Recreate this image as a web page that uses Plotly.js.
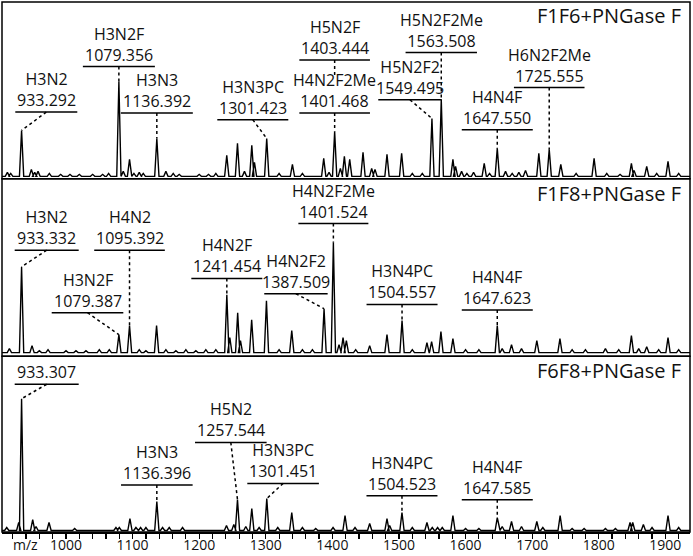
<!DOCTYPE html>
<html>
<head>
<meta charset="utf-8">
<script src="https://cdn.plot.ly/plotly-3.0.1.min.js"></script>
<style>
  html, body { margin: 0; padding: 0; background: #fff; }
  #spectra { width: 693px; height: 556px; }
</style>
</head>
<body>
<div id="spectra"></div>
<script>
// peak lists (m/z, relative intensity)
var f1f6Mz  = [912, 917, 933.3, 948, 953, 958, 975, 992, 1006, 1020, 1040, 1055, 1064, 1079.4, 1086, 1095.4, 1102, 1110, 1116, 1136.4, 1150, 1161, 1170, 1200, 1214, 1225, 1241.4, 1257.5, 1268, 1279, 1283, 1301.4, 1320, 1340, 1355, 1387, 1395, 1403.4, 1412, 1418, 1426, 1446, 1459, 1464, 1482, 1504, 1520, 1535, 1549.5, 1563.5, 1581, 1585, 1594, 1602, 1612, 1628, 1636, 1647.6, 1660, 1670, 1680, 1690, 1710, 1725.6, 1743, 1766, 1793, 1812, 1832, 1849, 1853, 1872, 1887, 1904, 1920];
var f1f6Int = [4, 3, 46, 7, 4, 5, 3, 2, 2, 2, 2, 2, 3, 95, 5, 17, 3, 4, 3, 38, 5, 3, 2, 2, 2, 3, 21, 33, 5, 31, 14, 38, 3, 12, 3, 18, 4, 45, 8, 20, 17, 24, 8, 7, 22, 23, 3, 3, 58, 77, 17, 10, 5, 3, 4, 13, 3, 28, 5, 3, 4, 6, 23, 27, 12, 3, 18, 3, 2, 13, 6, 10, 3, 15, 3];

var f1f8Mz  = [915, 933.3, 949, 960, 973, 1000, 1015, 1030, 1050, 1065, 1079.4, 1095.4, 1110, 1120, 1136, 1150, 1165, 1180, 1195, 1210, 1225, 1241.5, 1246, 1257.8, 1262, 1278.8, 1301, 1320, 1339, 1355, 1370, 1387.5, 1401.5, 1410, 1416, 1421, 1435, 1456, 1482, 1504.6, 1520, 1542, 1549, 1563, 1581, 1600, 1620, 1647.6, 1655, 1669, 1684, 1707, 1741.7, 1760, 1780, 1810, 1830, 1849, 1860, 1872, 1890, 1904, 1920];
var f1f8Int = [4, 86, 7, 2, 3, 2, 2, 2, 3, 3, 18, 27, 3, 2, 27, 3, 2, 3, 2, 3, 3, 58, 15, 40, 12, 33, 52, 3, 22, 3, 3, 44, 110, 8, 15, 12, 3, 7, 18, 32, 3, 10, 11, 21, 14, 3, 3, 27, 4, 8, 4, 12, 14, 3, 3, 4, 3, 17, 4, 6, 3, 15, 3];

var f6f8Mz  = [911, 929, 933.3, 950, 955, 974.5, 1013, 1075, 1080, 1096, 1105, 1112, 1120, 1136.4, 1145, 1155, 1175, 1241, 1252, 1257.5, 1270, 1279, 1290, 1301.5, 1318, 1339, 1355, 1375, 1401, 1419, 1434, 1456, 1482, 1486, 1504.5, 1520, 1542, 1550, 1558, 1565, 1581, 1600, 1620, 1647.6, 1655, 1669, 1684, 1707, 1716, 1742, 1760, 1778, 1810, 1825, 1847, 1851, 1867, 1880, 1904, 1920];
var f6f8Int = [3, 8, 132, 11, 4, 8, 2, 3, 3, 12, 3, 3, 3, 29, 3, 3, 3, 5, 6, 31, 4, 22, 3, 32, 3, 18, 3, 2, 3, 15, 3, 7, 12, 5, 18, 3, 8, 3, 3, 3, 15, 2, 2, 13, 4, 9, 4, 9, 3, 15, 2, 2, 2, 2, 8, 8, 6, 3, 15, 3];

// annotated peaks
var f1f6Names  = ['H3N2', 'H3N2F', 'H3N3', 'H3N3PC', 'H5N2F', 'H4N2F2Me', 'H5N2F2', 'H5N2F2Me', 'H4N4F', 'H6N2F2Me'];
var f1f6Values = ['933.292', '1079.356', '1136.392', '1301.423', '1403.444', '1401.468', '1549.495', '1563.508', '1647.550', '1725.555'];
var f1f8Names  = ['H3N2', 'H4N2', 'H3N2F', 'H4N2F', 'H4N2F2', 'H4N2F2Me', 'H3N4PC', 'H4N4F'];
var f1f8Values = ['933.332', '1095.392', '1079.387', '1241.454', '1387.509', '1401.524', '1504.557', '1647.623'];
var f6f8Names  = ['', 'H3N3', 'H5N2', 'H3N3PC', 'H3N4PC', 'H4N4F'];
var f6f8Values = ['933.307', '1136.396', '1257.544', '1301.451', '1504.523', '1647.585'];

var panelTitles = ['F1F6+PNGase F', 'F1F8+PNGase F', 'F6F8+PNGase F'];
var xTicks = [1000, 1100, 1200, 1300, 1400, 1500, 1600, 1700, 1800, 1900];

// label placement: [text centre m/z, underline height, half underline width px, leader end height or null]
var f1f6Pos = [[970.4, 64.4, 31, null], [1079.4, 110, 36, null], [1136.4, 63.4, 36, null], [1280.5, 56.7, 35.5, null],
  [1403.4, 116.7, 35.3, 99], [1403.4, 63.4, 35.3, null], [1516.5, 76.7, 31.7, null], [1563.5, 124, 35.7, null],
  [1647.6, 46.7, 35.5, null], [1725.6, 89, 35.3, null]];
var f1f8Pos = [[971, 102.6, 32, null], [1095.4, 102.6, 35.3, null], [1032.3, 40, 35.8, null], [1241.5, 74.3, 35.5, null],
  [1345.3, 59, 31.7, null], [1401.5, 129.3, 35, null], [1504.6, 48.3, 35.5, null], [1647.6, 42.6, 35.5, null]];
var f6f8Pos = [[971, 146.5, 32, null], [1136.4, 45.5, 35.8, null], [1247.5, 88.2, 35.8, null], [1326, 47.2, 35.8, null],
  [1504.5, 34.8, 35.5, null], [1647.6, 30.8, 35.5, null]];

var xMin = 903.9, xMax = 1937;
var plotW = 688;
var pxPerMz = plotW / (xMax - xMin);
var peakHalf = 3.2;
var font = 'Open Sans, sans-serif';

function spectrum(mz, inten, yaxis) {
  var x = [xMin], y = [0];
  for (var i = 0; i < mz.length; i++) {
    x.push(mz[i] - peakHalf, mz[i], mz[i] + peakHalf);
    y.push(0, inten[i], 0);
  }
  x.push(xMax); y.push(0);
  return { x: x, y: y, xaxis: 'x', yaxis: yaxis, mode: 'lines', hoverinfo: 'skip',
           line: { color: '#000', width: 1.4 }, showlegend: false };
}

function nearestPeak(mz, inten, m) {
  var best = 0;
  for (var i = 1; i < mz.length; i++) {
    if (Math.abs(mz[i] - m) < Math.abs(mz[best] - m)) best = i;
  }
  return [mz[best], inten[best]];
}

var annotations = [], shapes = [];

function addLabels(names, values, pos, mz, inten, yref) {
  for (var i = 0; i < names.length; i++) {
    var p = pos[i];
    var pk = nearestPeak(mz, inten, parseFloat(values[i]));
    var hw = p[2] / pxPerMz;
    var txt = names[i] != '' ? names[i] + '<br>' + values[i] : values[i];
    annotations.push({ xref: 'x', yref: yref, x: p[0], y: p[1], yanchor: 'middle',
      yshift: names[i] != '' ? 22.5 : 12.5,
      text: txt, showarrow: false, font: { family: font, size: 16, color: '#111' } });
    shapes.push({ type: 'line', xref: 'x', yref: yref, x0: p[0] - hw, x1: p[0] + hw, y0: p[1], y1: p[1],
      line: { color: '#000', width: 1.5 } });
    var endY = p[3] === null ? pk[1] : p[3];
    shapes.push({ type: 'line', xref: 'x', yref: yref, x0: p[0], x1: pk[0], y0: p[1], y1: endY,
      line: { color: '#000', width: 1.5, dash: 'dot' } });
  }
}

addLabels(f1f6Names, f1f6Values, f1f6Pos, f1f6Mz, f1f6Int, 'y');
addLabels(f1f8Names, f1f8Values, f1f8Pos, f1f8Mz, f1f8Int, 'y2');
addLabels(f6f8Names, f6f8Values, f6f8Pos, f6f8Mz, f6f8Int, 'y3');

// panel frames and titles
var yNames = ['y', 'y2', 'y3'];
var titleShift = [-13, -15, -14];
for (var k = 0; k < 3; k++) {
  shapes.push({ type: 'rect', xref: 'paper', yref: yNames[k] + ' domain', x0: 0, x1: 1, y0: 0, y1: 1,
    line: { color: '#000', width: 1.5 } });
  annotations.push({ xref: 'paper', yref: yNames[k] + ' domain', x: 0.99, y: 1, xanchor: 'right', yanchor: 'middle',
    yshift: titleShift[k], text: panelTitles[k], showarrow: false, font: { family: font, size: 20, color: '#111' } });
}
annotations.push({ xref: 'paper', yref: 'paper', x: 0.013, y: 0, yanchor: 'middle', yshift: -12.5,
  text: 'm/z', showarrow: false, font: { family: font, size: 14, color: '#111' } });

var data = [spectrum(f1f6Mz, f1f6Int, 'y'), spectrum(f1f8Mz, f1f8Int, 'y2'), spectrum(f6f8Mz, f6f8Int, 'y3')];

var yBase = { showgrid: false, zeroline: false, showticklabels: false, ticks: '', showline: false, fixedrange: true };

var layout = {
  width: 693, height: 556,
  margin: { l: 2, r: 3, t: 2, b: 24 },
  paper_bgcolor: '#fff', plot_bgcolor: '#fff',
  showlegend: false,
  xaxis: {
    anchor: 'y3', range: [xMin, xMax], showgrid: false, zeroline: false,
    showline: true, linecolor: '#000', linewidth: 1.5,
    tickmode: 'array', tickvals: xTicks, ticktext: xTicks.map(String),
    ticks: 'outside', ticklen: 5, tickwidth: 1.2, tickcolor: '#000',
    ticklabelstandoff: -5,
    minor: { dtick: 20, tick0: 1000, ticks: 'outside', ticklen: 5, tickwidth: 1.2, tickcolor: '#000', showgrid: false },
    tickfont: { family: font, size: 14, color: '#111' }
  },
  yaxis:  Object.assign({}, yBase, { domain: [0.6667, 1], range: [-2.3, 174.7] }),
  yaxis2: Object.assign({}, yBase, { domain: [0.3315, 0.6667], range: [-3.7, 174.3] }),
  yaxis3: Object.assign({}, yBase, { domain: [0, 0.3315], range: [-1.5, 174.5] }),
  annotations: annotations,
  shapes: shapes
};

Plotly.newPlot('spectra', data, layout, { displayModeBar: false, staticPlot: true });
</script>
</body>
</html>
